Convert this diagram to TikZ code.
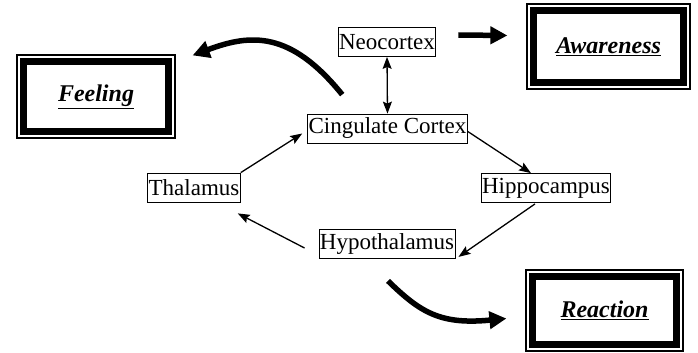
\documentclass[tikz,border=0pt]{standalone}
\usepackage{fontspec}
\setmainfont{Liberation Serif}
\usetikzlibrary{arrows.meta,calc}

\begin{document}
\begin{tikzpicture}[x=1pt,y=-1pt,
    part/.style={draw,line width=0.8pt,inner sep=1pt,minimum height=29pt,
        font=\fontsize{23}{24}\selectfont},
    outcome/.style={draw,line width=1.2pt,
        font=\fontsize{24}{25}\selectfont\bfseries\itshape},
    link/.style={line width=1.3pt,-{Stealth[length=12pt,width=9pt,inset=2pt]}},
    push/.style={line width=5.5pt,-{Triangle[length=17pt,width=17pt]}}]

      \useasboundingbox (0,0) rectangle (698,353);

      % parts of the brain
      \node[part] (neo) at (387,42) {Neocortex};
      \node[part] (cing) at (387.5,128.5) {Cingulate Cortex};
      \node[part] (thal) at (194,187.5) {Thalamus};
      \node[part] (hippo) at (546,188) {Hippocampus};
      \node[part] (hypo) at (387,244) {Hypothalamus};

      % outcomes
      \node[outcome,minimum width=158pt,minimum height=83pt] (feel) at (96,96.5)
          {\underline{Feeling}\hspace{8pt}};
      \node[outcome,minimum width=163pt,minimum height=85pt] (aware) at (608.5,46.5)
          {\underline{Awareness}};
      \node[outcome,minimum width=157pt,minimum height=81pt] (react) at (604.5,310.5)
          {\underline{Reaction}};
      \foreach \n in {feel,aware,react}
        \draw[line width=7pt] ($(\n.north west)+(7,7)$) rectangle ($(\n.south east)+(-7,-7)$);

      % circuit
      \draw[line width=1.3pt,{Stealth[length=12pt,width=9pt,inset=2pt]}-{Stealth[length=12pt,width=9pt,inset=2pt]}]
          (neo.south) -- (cing.north);
      \draw[link] ($(cing.east)+(0,3)$) -- ($(hippo.north)+(-15,0)$);
      \draw[link] ($(hippo.south)+(-11,1)$) -- ($(hypo.south east)+(3,-2)$);
      \draw[link] ($(hypo.west)+(-14,4)$) -- ($(thal.south east)+(-3,11)$);
      \draw[link] (thal.north east) -- ($(cing.west)+(-5,5)$);

      % thick arrows
      \draw[push] ($(neo.east)+(22,-7)$) -- ($(aware.west)+(-19,-11)$);
      \draw[push] ($(cing.north west)+(35,-19)$) .. controls (290,30) and (250,34) .. ($(feel.north east)+(17,1)$);
      \draw[push] ($(hypo.south)+(1,22)$) .. controls (420,312) and (440,325) .. ($(react.west)+(-19,8)$);
\end{tikzpicture}
\end{document}
